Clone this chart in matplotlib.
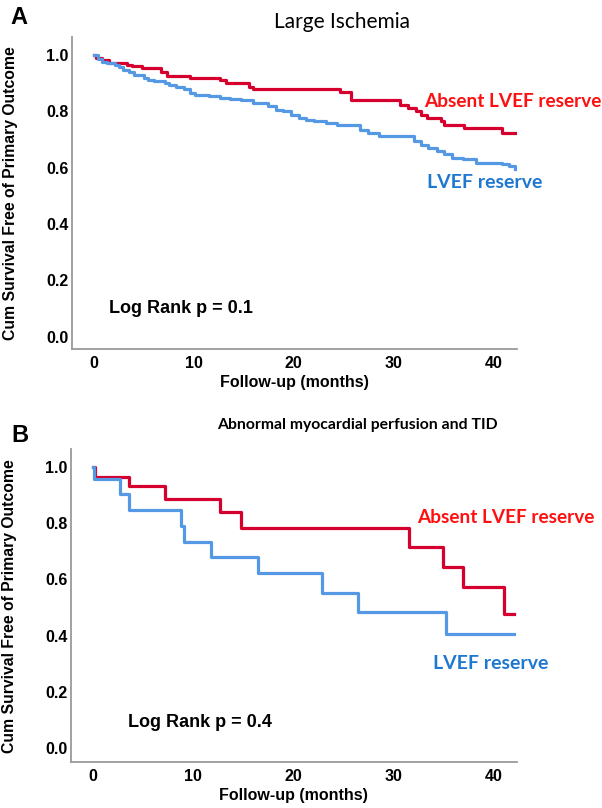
import matplotlib.pyplot as plt

# panel A: Large Ischemia (Kaplan-Meier steps)
a_absent_t = [0, 0.2, 0.8, 1.5, 3.3, 3.8, 4.8, 6.7, 7.3, 9.6, 12.6, 13.2, 15.5, 15.9,
              24.6, 25.7, 30.6, 31.4, 32.2, 32.7, 33.3, 34.7, 35.0, 37.0, 40.8, 42.1]
a_absent_s = [1.0, 0.988, 0.982, 0.97, 0.965, 0.96, 0.953, 0.94, 0.924, 0.918, 0.912, 0.9, 0.888, 0.879,
              0.867, 0.841, 0.823, 0.812, 0.8, 0.788, 0.776, 0.765, 0.75, 0.741, 0.724, 0.724]
a_reserve_t = [0, 0.4, 0.8, 1.3, 2.1, 2.5, 2.9, 3.5, 4.0, 5.0, 5.4, 6.0, 7.1, 7.5, 8.2, 9.0, 9.6, 10.1,
               11.5, 12.6, 13.6, 14.7, 15.9, 17.4, 18.2, 18.9, 19.7, 20.5, 21.2, 22.0, 23.2, 24.3,
               26.2, 26.6, 27.4, 28.5, 32.0, 32.7, 33.4, 34.3, 35.0, 35.8, 36.9, 38.2, 40.8, 41.5, 42.1]
a_reserve_s = [1.0, 0.985, 0.975, 0.97, 0.965, 0.958, 0.947, 0.94, 0.93, 0.918, 0.912, 0.906, 0.9, 0.894,
               0.886, 0.88, 0.865, 0.859, 0.853, 0.847, 0.843, 0.841, 0.829, 0.818, 0.806, 0.8, 0.788,
               0.776, 0.768, 0.765, 0.759, 0.753, 0.75, 0.735, 0.724, 0.712, 0.694, 0.682, 0.67, 0.659,
               0.65, 0.635, 0.629, 0.618, 0.612, 0.606, 0.594]

# panel B: Abnormal myocardial perfusion and TID
b_absent_t = [0, 0.24, 3.6, 7.2, 12.7, 14.8, 31.5, 34.9, 36.9, 41.0, 42.0]
b_absent_s = [1.0, 0.965, 0.933, 0.884, 0.838, 0.783, 0.714, 0.643, 0.572, 0.477, 0.477]
b_reserve_t = [0, 0.1, 2.7, 3.6, 8.75, 9.1, 11.8, 16.5, 22.9, 26.5, 35.2, 42.0]
b_reserve_s = [1.0, 0.956, 0.903, 0.846, 0.79, 0.734, 0.678, 0.621, 0.553, 0.485, 0.406, 0.406]

x_ticks = [0, 10, 20, 30, 40]
y_ticks = [0.0, 0.2, 0.4, 0.6, 0.8, 1.0]

red_line = '#d5002d'
blue_line = '#5598e4'
red_text = '#ff1010'
blue_text = '#1f78d0'
W, H = 602, 808

fig = plt.figure(figsize=(W / 100, H / 100), dpi=100)
plt.rcParams['font.family'] = ['Liberation Sans', 'DejaVu Sans']


def px(x, y):
    return x / W, 1 - y / H


def setup(ax, ylim, logrank, logx, logy):
    ax.set_xlim(-2.2, 42.3)
    ax.set_ylim(*ylim)
    for s in ['top', 'right']:
        ax.spines[s].set_visible(False)
    for s in ['left', 'bottom']:
        ax.spines[s].set_color('#9a9a9a')
        ax.spines[s].set_linewidth(1.3)
    ax.set_xticks(x_ticks)
    ax.set_yticks(y_ticks)
    ax.set_yticklabels(['%.1f' % v for v in y_ticks])
    ax.tick_params(length=0, labelsize=11.5)
    ax.tick_params(axis='x', pad=5)
    ax.tick_params(axis='y', pad=2.5)
    for lab in ax.get_xticklabels() + ax.get_yticklabels():
        lab.set_fontweight('bold')
    ax.set_xlabel('Follow-up (months)', fontsize=11.5, fontweight='bold', labelpad=3)
    ax.set_ylabel('Cum Survival Free of Primary Outcome', fontsize=11.3, fontweight='bold')
    ax.yaxis.set_label_coords(-0.122, 0.5)
    ax.text(logx, logy, logrank, fontsize=13, fontweight='bold', va='center')


# ---- panel A
ax1 = fig.add_axes([72 / W, 1 - 349.3 / H, 444.7 / W, 312.6 / H])
ax1.step(a_absent_t, a_absent_s, where='post', color=red_line, lw=2.3)
ax1.step(a_reserve_t, a_reserve_s, where='post', color=blue_line, lw=2.3)
setup(ax1, (-0.045, 1.065), 'Log Rank p = 0.1', 1.5, 0.1)
ax1.text(33.0, 0.834, 'Absent LVEF reserve', color=red_text, fontsize=13.7, fontweight='bold',
         family='Lato', va='center')
ax1.text(33.3, 0.546, 'LVEF reserve', color=blue_text, fontsize=14, fontweight='bold',
         family='Lato', va='center')

# ---- panel B
ax2 = fig.add_axes([71 / W, 1 - 762.3 / H, 445.7 / W, 313.3 / H])
ax2.step(b_absent_t, b_absent_s, where='post', color=red_line, lw=2.3)
ax2.step(b_reserve_t, b_reserve_s, where='post', color=blue_line, lw=2.3)
setup(ax2, (-0.05, 1.063), 'Log Rank p = 0.4', 3.5, 0.092)
ax2.text(32.4, 0.821, 'Absent LVEF reserve', color=red_text, fontsize=13.7, fontweight='bold',
         family='Lato', va='center')
ax2.text(33.9, 0.30, 'LVEF reserve', color=blue_text, fontsize=14, fontweight='bold',
         family='Lato', va='center')

# titles and panel letters
fig.text(*px(342, 22), 'Large Ischemia', fontsize=15, family='Lato', ha='center', va='center')
fig.text(*px(357, 425), 'Abnormal myocardial perfusion and TID', fontsize=11.3, family='Lato',
         fontweight='bold', ha='center', va='center')
fig.text(*px(19, 18), 'A', fontsize=17, fontweight='bold', ha='center', va='center')
fig.text(*px(20, 435), 'B', fontsize=17, fontweight='bold', ha='center', va='center')

fig.savefig('out.png', dpi=100)
